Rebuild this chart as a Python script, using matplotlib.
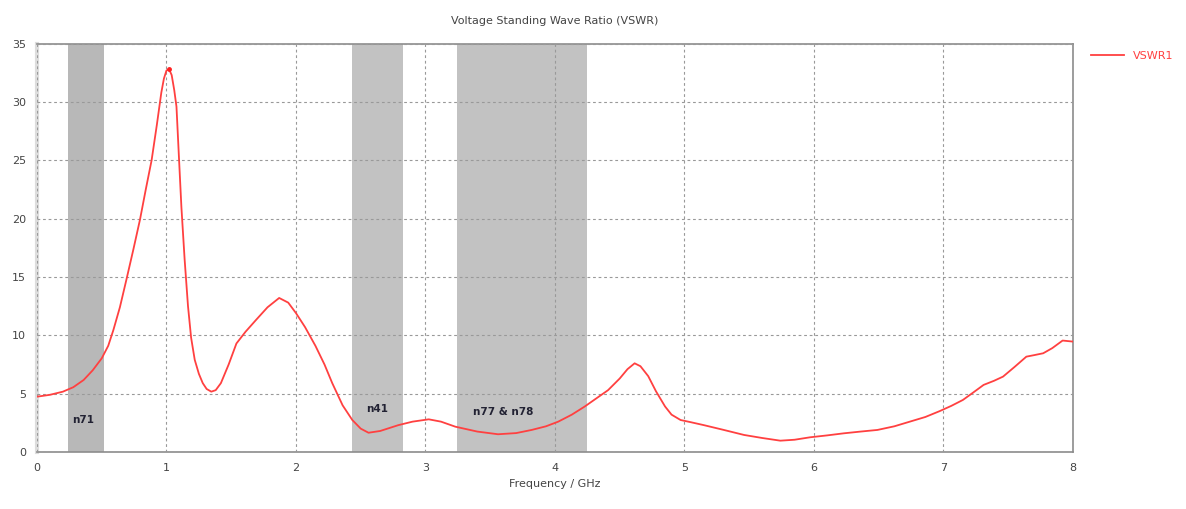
import matplotlib.pyplot as plt
import numpy as np

# VSWR curve
freq_ghz = [0.0, 0.1, 0.2, 0.28, 0.36, 0.43, 0.5, 0.55, 0.59, 0.64, 0.69,
            0.745, 0.795, 0.84, 0.885, 0.925, 0.96, 0.98, 1.0, 1.02, 1.04,
            1.06, 1.077, 1.095, 1.115, 1.14, 1.166, 1.19, 1.218, 1.25, 1.28,
            1.31, 1.346, 1.38, 1.42, 1.48, 1.54, 1.61, 1.69, 1.78, 1.87,
            1.94, 2.0, 2.07, 2.15, 2.22, 2.28, 2.36, 2.435, 2.5, 2.56,
            2.65, 2.79, 2.9, 3.025, 3.12, 3.23, 3.4, 3.56, 3.7, 3.82,
            3.93, 4.025, 4.13, 4.23, 4.32, 4.41, 4.5, 4.56, 4.615, 4.66,
            4.72, 4.78, 4.85, 4.9, 4.97, 5.05, 5.15, 5.3, 5.46, 5.6,
            5.74, 5.85, 5.97, 6.1, 6.23, 6.36, 6.49, 6.62, 6.74, 6.86,
            6.97, 7.06, 7.15, 7.23, 7.31, 7.39, 7.46, 7.55, 7.64, 7.7,
            7.77, 7.84, 7.92, 8.0]
vswr = [4.74, 4.9, 5.17, 5.55, 6.17, 7.0, 8.03, 9.1, 10.46, 12.4, 14.75,
        17.4, 19.9, 22.5, 25.0, 28.0, 30.8, 32.0, 32.7, 32.8, 32.3,
        31.0, 29.6, 25.5, 21.0, 16.5, 12.5, 9.8, 7.9, 6.7, 5.9,
        5.4, 5.17, 5.3, 5.9, 7.5, 9.3, 10.3, 11.3, 12.4, 13.2,
        12.8, 11.9, 10.7, 9.1, 7.5, 5.9, 4.0, 2.74, 2.0, 1.65,
        1.8, 2.3, 2.6, 2.8, 2.6, 2.17, 1.75, 1.52, 1.62, 1.89,
        2.2, 2.6, 3.2, 3.9, 4.6, 5.3, 6.3, 7.1, 7.6, 7.35,
        6.5, 5.2, 3.9, 3.2, 2.74, 2.55, 2.3, 1.9, 1.46, 1.2,
        0.97, 1.05, 1.26, 1.42, 1.6, 1.75, 1.89, 2.2, 2.6, 3.0,
        3.5, 3.95, 4.46, 5.1, 5.75, 6.1, 6.46, 7.3, 8.17, 8.3,
        8.46, 8.9, 9.55, 9.46]

# frequency bands (GHz)
band_names = ["n71", "n41", "n77 & n78"]
band_lo = [0.24, 2.43, 3.24]
band_hi = [0.52, 2.83, 4.25]
band_colors = ["#b8b8b8", "#c2c2c2", "#c2c2c2"]
band_label_x = [0.36, 2.63, 3.6]
band_label_y = [2.7, 3.7, 3.4]

fig = plt.figure(figsize=(11.86, 5.09), dpi=100)
ax = fig.add_axes([0.0312, 0.112, 0.8735, 0.8024])

for lo, hi, c in zip(band_lo, band_hi, band_colors):
    ax.axvspan(lo, hi, color=c, zorder=0, lw=0)
for name, x, y in zip(band_names, band_label_x, band_label_y):
    ax.text(x, y, name, ha="center", va="center", fontsize=7.5,
            color="#222233", fontweight="bold", zorder=3)

ax.plot(freq_ghz, vswr, color="#ff4040", lw=1.3, zorder=4, label="VSWR1")
i = int(np.argmax(vswr))
ax.plot(freq_ghz[i], vswr[i], "o", color="#ff2020", ms=2.5, zorder=5)

ax.set_xlim(0, 8)
ax.set_ylim(0, 35)
ax.set_xticks(range(0, 9))
ax.set_yticks(range(0, 36, 5))
ax.grid(True, color="#999999", ls=(0, (2.5, 2.5)), lw=0.8, zorder=1)
ax.set_axisbelow(False)
ax.tick_params(labelsize=8, colors="#444444", length=0, pad=8)
for s in ["top", "right", "bottom"]:
    ax.spines[s].set_color("#8c8c8c")
    ax.spines[s].set_linewidth(1.2)
ax.spines["left"].set_color("#dddddd")
ax.spines["left"].set_linewidth(3)

ax.set_xlabel("Frequency / GHz", fontsize=8, color="#444444", labelpad=4)
ax.set_title("Voltage Standing Wave Ratio (VSWR)", fontsize=8,
             color="#444444", pad=14)

leg = ax.legend(loc="upper left", bbox_to_anchor=(1.01, 1.0), frameon=False,
                fontsize=8, handlelength=3, borderaxespad=0.3)
for t in leg.get_texts():
    t.set_color("#ff4040")

fig.savefig("out.png", dpi=100)
